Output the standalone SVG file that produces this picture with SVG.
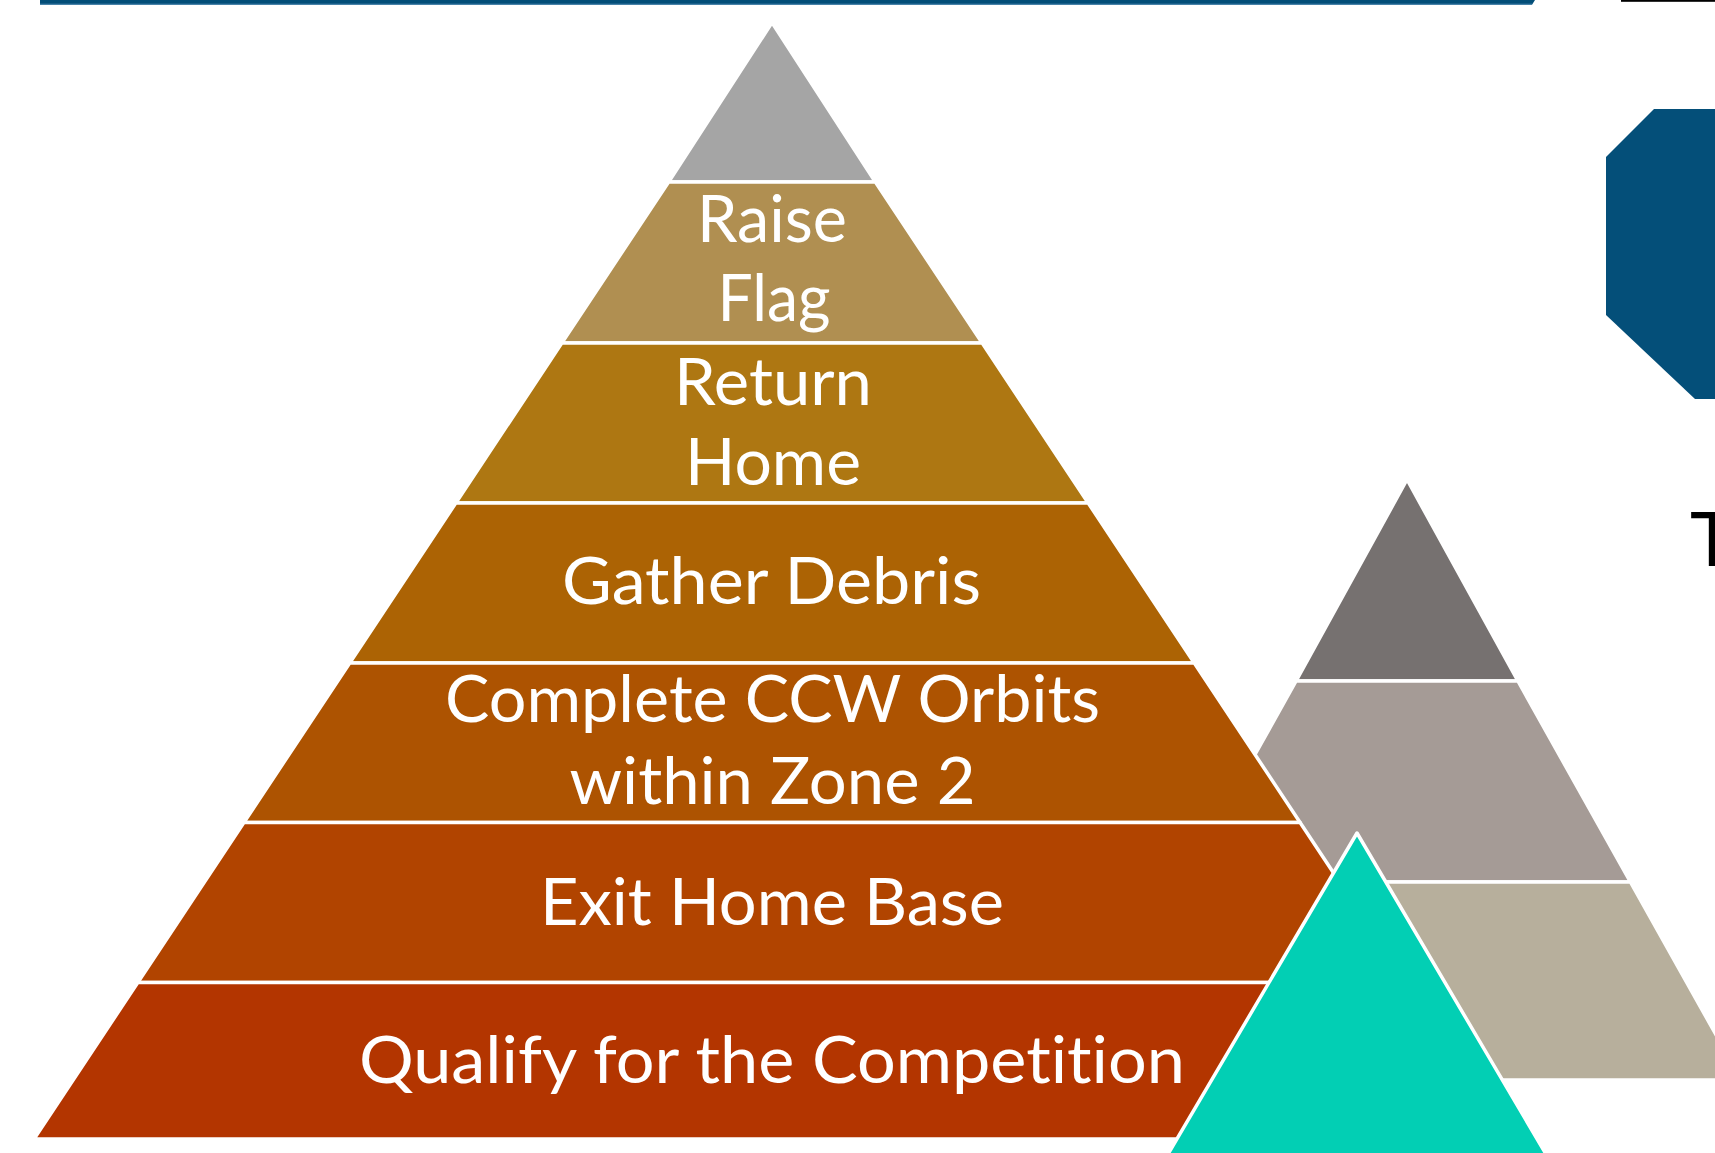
<svg xmlns="http://www.w3.org/2000/svg" width="1715" height="1153" viewBox="0 0 1715 1153">
  <style>
    .band { stroke: #FFFFFF; stroke-width: 3.5; stroke-linejoin: round; }
    .lbl { font-family: Lato, "Open Sans", "Liberation Sans", sans-serif; font-size: 65px; fill: #FFFFFF; text-anchor: middle; font-variant-ligatures: none; font-feature-settings: "liga" 0, "clig" 0; }
  </style>
  <rect x="0" y="0" width="1715" height="1153" fill="#FFFFFF"/>

  <g id="header">
    <polygon points="40,0 1535,0 1532,4.7 40,4.7" fill="#034E78"/>
    <rect x="40" y="3.7" width="1492" height="1" fill="#4A86AE"/>
    <rect x="1621" y="0" width="94" height="1.8" fill="#000000"/>
  </g>

  <g id="blue-shape">
    <polygon points="1654,109 1715,109 1715,399 1695,399 1606,315 1606,157" fill="#044F79"/>
  </g>

  <g id="title-fragment">
    <text x="1690" y="566" font-family="Lato, 'Open Sans', 'Liberation Sans', sans-serif" font-size="76" fill="#000000">T</text>
  </g>

  <g id="gray-pyramid">
    <polygon class="band" points="1407,479.5 1517.9,681 1296.1,681" fill="#767170"/>
    <polygon class="band" points="1296.1,681 1517.9,681 1630.4,882 1183.6,882" fill="#A59B96"/>
    <polygon class="band" points="1183.6,882 1630.4,882 1741.4,1080 1072.6,1080" fill="#B7AF9C"/>
  </g>

  <g id="main-pyramid">
    <g id="layer-top">
      <polygon class="band" points="772,22.5 875.4,182 668.6,182" fill="#A5A5A5"/>
    </g>
    <g id="layer-raise-flag">
      <polygon class="band" points="668.6,182 875.4,182 982.2,343 561.8,343" fill="#B08F51"/>
      <text class="lbl" x="772" y="242" textLength="150" lengthAdjust="spacingAndGlyphs">Raise</text>
      <text class="lbl" x="774" y="321" textLength="113" lengthAdjust="spacingAndGlyphs">Flag</text>
    </g>
    <g id="layer-return-home">
      <polygon class="band" points="561.8,343 982.2,343 1088.2,503 455.8,503" fill="#AE7712"/>
      <text class="lbl" x="773" y="405" textLength="198" lengthAdjust="spacingAndGlyphs">Return</text>
      <text class="lbl" x="773" y="484.5" textLength="176" lengthAdjust="spacingAndGlyphs">Home</text>
    </g>
    <g id="layer-gather-debris">
      <polygon class="band" points="455.8,503 1088.2,503 1194.3,663 349.7,663" fill="#AC6304"/>
      <text class="lbl" x="771.5" y="604" textLength="419" lengthAdjust="spacingAndGlyphs">Gather Debris</text>
    </g>
    <g id="layer-ccw-orbits">
      <polygon class="band" points="349.7,663 1194.3,663 1300.1,822.5 243.9,822.5" fill="#AD5301"/>
      <text class="lbl" x="772.5" y="722" textLength="655" lengthAdjust="spacingAndGlyphs">Complete CCW Orbits</text>
      <text class="lbl" x="772.5" y="804" textLength="406" lengthAdjust="spacingAndGlyphs">within Zone 2</text>
    </g>
    <g id="layer-exit-home-base">
      <polygon class="band" points="243.9,822.5 1300.1,822.5 1406.2,982.5 137.8,982.5" fill="#B14400"/>
      <text class="lbl" x="772" y="925" textLength="464" lengthAdjust="spacingAndGlyphs">Exit Home Base</text>
    </g>
    <g id="layer-qualify">
      <polygon class="band" points="137.8,982.5 1406.2,982.5 1510,1139 34,1139" fill="#B33500"/>
      <text class="lbl" x="772" y="1083" textLength="826" lengthAdjust="spacingAndGlyphs">Qualify for the Competition</text>
    </g>
  </g>

  <g id="teal-triangle">
    <polygon class="band" points="1357,833 1573,1200 1141,1200" fill="#02CFB4"/>
  </g>

  <g id="connectors"/>
</svg>
